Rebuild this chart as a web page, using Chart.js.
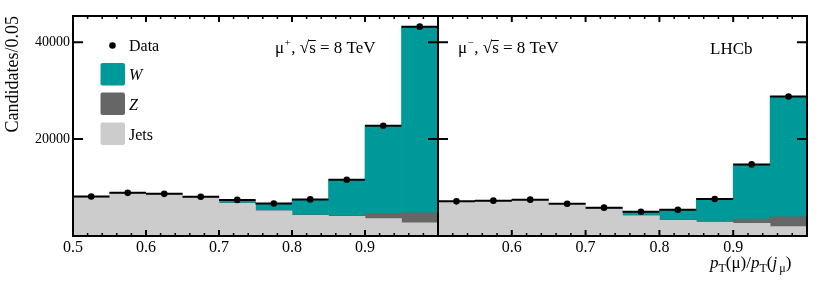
<!DOCTYPE html>
<html><head><meta charset="utf-8">
<script src="https://cdn.jsdelivr.net/npm/chart.js@4.4.0/dist/chart.umd.min.js"></script>
<style>
html,body{margin:0;padding:0;background:#fff;}
#wrap{position:relative;width:828px;height:281px;}
canvas{position:absolute;left:0;top:0;}
</style></head><body>
<div id="wrap"><canvas id="c1" width="828" height="281"></canvas><canvas id="c2" width="828" height="281"></canvas></div>
<script>
// ---- data ----
const binEdges = [0.50,0.55,0.60,0.65,0.70,0.75,0.80,0.85,0.90,0.95,1.00];
const xTicksLeft = [0.5,0.6,0.7,0.8,0.9];
const xTicksRight = [0.6,0.7,0.8,0.9];
const yTicks = [20000,40000];
const plusData  = [8150,8900,8700,8100,7450,6700,7550,11600,22750,43200];
const plusJets  = [7950,8750,8550,7950,6750,5200,4250,4040,3570,2740];
const plusZ     = [50,50,50,50,50,50,100,250,1100,2060];
const plusW     = [150,100,100,100,650,1450,3200,7310,18080,38400];
const minusData = [7150,7300,7500,6650,5850,5000,5430,7650,14780,28800];
const minusJets = [7100,7250,7450,6600,5600,4180,3250,2800,2600,1920];
const minusZ    = [30,30,30,30,30,50,80,200,900,2060];
const minusW    = [20,20,20,20,220,770,2100,4650,11280,24820];

const COL_W = '#009999', COL_Z = '#666666', COL_J = '#cccccc';
const SERIF = '"Liberation Serif","DejaVu Serif",serif';
const Y_MAX = 45400;

const centers = binEdges.slice(0,-1).map((e,i)=>(e+binEdges[i+1])/2);

function barDS(label, vals, color){
  return {type:'bar', label, data: vals.map((v,i)=>({x:centers[i], y:v})),
    backgroundColor: color, borderWidth:0, barPercentage:1, categoryPercentage:1,
    stack:'mc', order:0};
}
function errDS(vals){
  const d=[];
  vals.forEach((v,i)=>{ d.push({x:binEdges[i],y:v},{x:binEdges[i+1],y:v},{x:binEdges[i+1],y:null}); });
  return {type:'line', data:d, borderColor:'#000', borderWidth:2, pointRadius:0, spanGaps:false,
    fill:false, stack:'err', order:-1, tension:0};
}
function dotDS(vals){
  return {type:'line', data: vals.map((v,i)=>({x:centers[i], y:v})), showLine:false,
    pointRadius:3.3, pointBackgroundColor:'#000', pointBorderColor:'#000', pointBorderWidth:0,
    stack:'dots', order:-2};
}

const framePlugin = {
  id:'frame',
  afterDraw(chart){
    const {ctx, chartArea:a, scales:{x,y}} = chart;
    ctx.save();
    ctx.strokeStyle='#000';
    for(let k=0;k<=25;k++){
      const v = 0.5 + k*0.02;
      const px = x.getPixelForValue(v);
      const major = (k%5===0);
      const len = major?6:3;
      ctx.lineWidth = major?2:1.5;
      ctx.beginPath();
      ctx.moveTo(px,a.bottom); ctx.lineTo(px,a.bottom-len);
      ctx.moveTo(px,a.top); ctx.lineTo(px,a.top+len);
      ctx.stroke();
    }
    ctx.lineWidth=2;
    yTicks.forEach(v=>{
      const py = y.getPixelForValue(v);
      ctx.beginPath();
      ctx.moveTo(a.left,py); ctx.lineTo(a.left+10,py);
      ctx.moveTo(a.right,py); ctx.lineTo(a.right-10,py);
      ctx.stroke();
    });
    ctx.lineWidth=2;
    ctx.strokeRect(a.left,a.top,a.right-a.left,a.bottom-a.top);
    ctx.restore();
  }
};

function drawSqrtLabel(ctx, x, yb, sign){
  ctx.font = '17px '+SERIF;
  ctx.fillStyle='#000';
  ctx.textBaseline='alphabetic';
  ctx.textAlign='left';
  ctx.fillText('\u03bc', x, yb); x += ctx.measureText('\u03bc').width;
  ctx.font = '11px '+SERIF;
  ctx.fillText(sign, x+0.5, yb-7); x += ctx.measureText(sign).width+1;
  ctx.font = '17px '+SERIF;
  ctx.fillText(', ', x, yb); x += ctx.measureText(', ').width;
  ctx.fillText('\u221a', x, yb); const sx = x; x += ctx.measureText('\u221a').width;
  ctx.fillText('s', x, yb); const sw = ctx.measureText('s').width;
  ctx.lineWidth=1; ctx.strokeStyle='#000';
  ctx.beginPath(); ctx.moveTo(sx+ctx.measureText('\u221a').width-1, yb-12.5); ctx.lineTo(x+sw, yb-12.5); ctx.stroke();
  x += sw;
  ctx.fillText(' = 8 TeV', x, yb);
}

const leftText = {
  id:'leftText',
  afterDraw(chart){
    const ctx = chart.ctx;
    ctx.save();
    ctx.fillStyle='#000';
    ctx.beginPath(); ctx.arc(112.5,45.5,3.3,0,Math.PI*2); ctx.fill();
    ctx.font='16px '+SERIF; ctx.textAlign='left'; ctx.textBaseline='alphabetic';
    ctx.fillText('Data',129,51);
    const boxes = [[COL_W,'W',63,true],[COL_Z,'Z',92.5,true],[COL_J,'Jets',122.5,false]];
    boxes.forEach(([c,t,yy,it])=>{
      ctx.fillStyle=c;
      ctx.beginPath();
      if(ctx.roundRect) ctx.roundRect(100.5,yy,24.5,22.5,2); else ctx.rect(100.5,yy,24.5,22.5);
      ctx.fill();
      ctx.fillStyle='#000';
      ctx.font=(it?'italic ':'')+'16px '+SERIF;
      ctx.fillText(t,129,yy+17);
    });
    drawSqrtLabel(ctx, 275, 53, '+');
    ctx.restore();
  }
};
const rightText = {
  id:'rightText',
  afterDraw(chart){
    const ctx = chart.ctx;
    ctx.save();
    drawSqrtLabel(ctx, 458, 53, '\u2212');
    ctx.font='17px '+SERIF; ctx.fillStyle='#000'; ctx.textAlign='left';
    ctx.fillText('LHCb', 710, 54);
    let x = 710; const yb = 268;
    const big = '17px '+SERIF, bigI = 'italic 17px '+SERIF, sm = '12px '+SERIF;
    const put = (t,f,dy)=>{ ctx.font=f; ctx.fillText(t,x,yb+dy); x+=ctx.measureText(t).width; };
    put('p',bigI,0); put('T',sm,4); put('(\u03bc)/',big,0);
    put('p',bigI,0); put('T',sm,4); put('(',big,0); put('j',bigI,0); x+=2; put('\u03bc',sm,4); put(')',big,0);
    ctx.restore();
  }
};

function makeChart(id, data, jets, z, w, left){
  const xTicks = left ? xTicksLeft : xTicksRight;
  return new Chart(document.getElementById(id), {
    type:'bar',
    data:{ datasets:[ barDS('Jets',jets,COL_J), barDS('Z',z,COL_Z), barDS('W',w,COL_W), errDS(data), dotDS(data) ] },
    options:{
      responsive:false, animation:false,
      layout:{ padding: left ? {left:0,right:390,top:16,bottom:0} : {left:438,right:21,top:16,bottom:0} },
      plugins:{ legend:{display:false}, tooltip:{enabled:false}, title:{display:false} },
      scales:{
        x:{ type:'linear', min:0.5, max:1.0, offset:false, stacked:true,
            grid:{display:false, drawTicks:false}, border:{display:false},
            afterBuildTicks:(s)=>{ s.ticks = xTicks.map(v=>({value:v})); },
            afterFit:(s)=>{ s.height = 45; },
            ticks:{ font:{family:SERIF,size:16}, color:'#000', padding:2, maxRotation:0, autoSkip:false,
                    callback:(v)=>Number(v).toFixed(1) } },
        y:{ type:'linear', min:0, max:Y_MAX, stacked:true, display:left,
            grid:{display:false, drawTicks:false}, border:{display:false},
            afterBuildTicks:(s)=>{ s.ticks = yTicks.map(v=>({value:v})); },
            afterFit:(s)=>{ s.width = left ? 73 : 0; },
            ticks:{ font:{family:SERIF,size:14}, color:'#000', padding:3, callback:(v)=>String(v) },
            title:{ display:left, text:'Candidates/0.05', align:'end', color:'#000',
                    font:{family:SERIF,size:18}, padding:{top:2,bottom:0} } }
      }
    },
    plugins:[framePlugin, left?leftText:rightText]
  });
}
makeChart('c1', plusData, plusJets, plusZ, plusW, true);
makeChart('c2', minusData, minusJets, minusZ, minusW, false);
</script>
</body></html>
